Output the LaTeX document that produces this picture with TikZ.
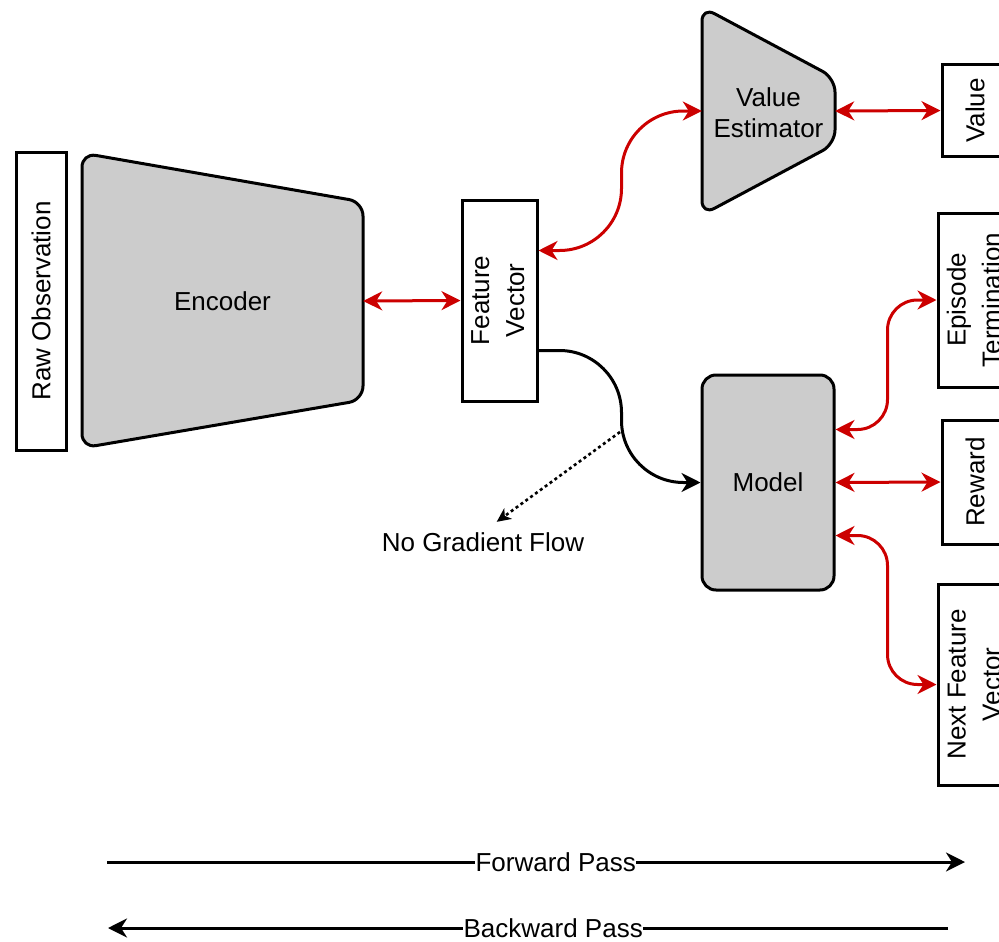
\documentclass[tikz,border=0pt]{standalone}
\usepackage{fontspec}
\setmainfont{Liberation Sans}
\usepackage{tikz}
\usetikzlibrary{arrows.meta}

\definecolor{gradred}{RGB}{204,0,0}
\definecolor{netgray}{RGB}{204,204,204}

\tikzset{
    big/.tip={Stealth[length=19pt,width=19pt,inset=6pt]},
    small/.tip={Stealth[length=14pt,width=13pt,inset=4pt]}
}

\begin{document}
\begin{tikzpicture}[x=1pt, y=-1pt,
        every node/.style={font=\fontsize{26}{31}\selectfont},
        two/.style={font=\fontsize{26}{35}\selectfont},
        box/.style={draw, line width=3pt, fill=white, inner sep=0pt},
        net/.style={draw, line width=3pt, fill=netgray, rounded corners=14pt},
        blank/.style={inner sep=0pt},
        grad/.style={draw=gradred, line width=3pt, {big}-{big}},
        flow/.style={draw, line width=3pt, -{big}},
        dots/.style={draw, line width=2.6pt, dash pattern=on 3pt off 3pt, -{small}},
        pass/.style={draw, line width=3pt, -{big}},
        passlabel/.style={fill=white, inner sep=0.5pt}]

        \useasboundingbox (0,0) rectangle (999,942);
        \clip (0,0) rectangle (999,942);

        \node (raw)[box, minimum width=50pt, minimum height=298pt] at (41,301) {\rotatebox{90}{Raw Observation}};

        \path[net] (82,153) -- (363,202) -- (363,400) -- (82,448) -- cycle;
        \node (enc)[blank, minimum width=281pt, minimum height=296pt] at (222.5,301) {Encoder};

        \node (fv)[box, two, minimum width=75pt, minimum height=201pt] at (499.5,300.5) {\rotatebox{90}{\begin{tabular}{@{}c@{}}Feature\\Vector\end{tabular}}};

        \path[net] (702,7) -- (835,78) -- (835,144) -- (702,215) -- cycle;
        \node (ve)[blank, minimum width=133pt, minimum height=208pt] at (768.5,111) {\raisebox{-5pt}[\height][\depth]{\begin{tabular}{@{}c@{}}Value\\Estimator\end{tabular}}};

        \node (model)[net, minimum width=132pt, minimum height=215pt] at (768,482.5) {Model};

        \node (val)[box, minimum width=66pt, minimum height=91pt] at (975,110.5) {\rotatebox{90}{Value}};
        \node (et)[box, two, minimum width=76pt, minimum height=174pt] at (976,300) {\rotatebox{90}{\begin{tabular}{@{}c@{}}Episode\\Termination\end{tabular}}};
        \node (rw)[box, minimum width=66pt, minimum height=124pt] at (975,482) {\rotatebox{90}{Reward}};
        \node (nfv)[box, two, minimum width=76pt, minimum height=201pt] at (976,684.5) {\rotatebox{90}{\begin{tabular}{@{}c@{}}Next Feature\\Vector\end{tabular}}};

        \draw[grad] (enc.east) -- (fv.west);
        \draw[grad, rounded corners=62pt] ([yshift=50pt]fv.east) -- ++(83,0) |- (ve.west);
        \draw[grad] (ve.east) -- (val.west);

        \draw[flow, rounded corners=62pt] ([yshift=-50pt]fv.east) -- ++(83,0) |- (model.west);
        \coordinate (cut) at (620,432);
        \node (nograd) at (483,542) {No Gradient Flow};
        \draw[dots, shorten >=12pt] (cut) -- ([xshift=4pt]nograd.north);

        \draw[grad, rounded corners=30pt] ([yshift=53pt]model.east) -- ++(52,0) |- (et.west);
        \draw[grad] (model.east) -- (rw.west);
        \draw[grad, rounded corners=30pt] ([yshift=-53pt]model.east) -- ++(52,0) |- (nfv.west);

        \coordinate (fwd0) at (107,862);
        \coordinate (fwd1) at (965,862);
        \draw[pass] (fwd0) -- node[passlabel, pos=0.523] (fwdl) {Forward Pass} (fwd1);
        \coordinate (bwd0) at (948,928);
        \coordinate (bwd1) at (108,928);
        \draw[pass] (bwd0) -- node[passlabel, pos=0.47] (bwdl) {Backward Pass} (bwd1);

    \end{tikzpicture}
\end{document}
